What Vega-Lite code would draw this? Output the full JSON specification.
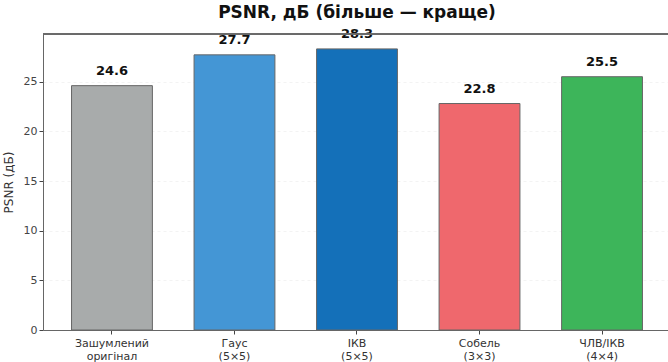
{
  "$schema": "https://vega.github.io/schema/vega-lite/v6.json",
  "autosize": {"type": "none"},
  "padding": {"left": 43, "top": 34, "right": 0, "bottom": 32},
  "width": 628,
  "height": 296,
  "background": "white",
  "config": {
    "view": {"stroke": null},
    "font": "DejaVu Sans"
  },
  "title": {
    "text": "PSNR, дБ (більше — краще)",
    "fontSize": 17,
    "fontWeight": "bold",
    "font": "DejaVu Sans",
    "color": "#111",
    "anchor": "middle",
    "offset": 6
  },
  "data": {
    "values": [
      {"name": "Зашумлений|оригінал", "psnr": 24.6, "color": "#a8abab"},
      {"name": "Гаус|(5×5)", "psnr": 27.7, "color": "#4496d5"},
      {"name": "ІКВ|(5×5)", "psnr": 28.3, "color": "#1470b9"},
      {"name": "Собель|(3×3)", "psnr": 22.8, "color": "#ef686d"},
      {"name": "ЧЛВ/ІКВ|(4×4)", "psnr": 25.5, "color": "#3db55a"}
    ]
  },
  "encoding": {
    "x": {
      "field": "name",
      "type": "nominal",
      "sort": null,
      "scale": {"paddingInner": 0.34, "paddingOuter": 0.233},
      "axis": {
        "title": null,
        "labelAngle": 0,
        "labelExpr": "split(datum.label, '|')",
        "labelFontSize": 11,
        "labelColor": "#333",
        "labelLineHeight": 13,
        "labelPadding": 3,
        "tickColor": "#444",
        "tickSize": 4,
        "domainColor": "#666",
        "domainWidth": 1
      }
    },
    "y": {
      "field": "psnr",
      "type": "quantitative",
      "scale": {"domain": [0, 29.8], "nice": false},
      "axis": {
        "title": "PSNR (дБ)",
        "titleFontSize": 12,
        "titleFontWeight": "normal",
        "titleColor": "#333",
        "titlePadding": 8,
        "values": [0, 5, 10, 15, 20, 25],
        "labelFontSize": 11,
        "labelColor": "#444",
        "tickColor": "#444",
        "tickSize": 4,
        "domainColor": "#666",
        "grid": true,
        "gridColor": "#f0f0f0",
        "gridDash": [3, 3],
        "gridWidth": 0.8
      }
    }
  },
  "layer": [
    {
      "mark": {"type": "bar", "stroke": "#666", "strokeWidth": 1},
      "encoding": {
        "color": {"field": "color", "type": "nominal", "scale": null}
      }
    },
    {
      "mark": {"type": "text", "dy": -8, "fontSize": 13, "fontWeight": "bold", "color": "#111", "baseline": "bottom"},
      "encoding": {
        "text": {"field": "psnr", "type": "quantitative", "format": ".1f"}
      }
    },
    {
      "mark": {"type": "rule", "color": "#666", "strokeWidth": 1},
      "encoding": {
        "y": {"datum": 29.8, "type": "quantitative"},
        "x": {"value": 0},
        "x2": {"value": 628}
      }
    }
  ]
}
